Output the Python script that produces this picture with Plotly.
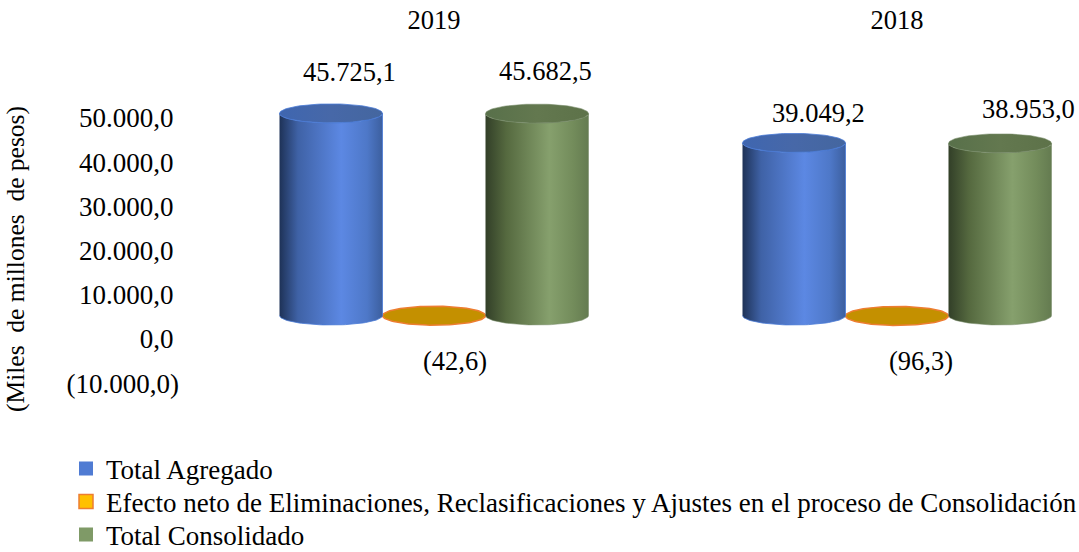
import numpy as np
import plotly.graph_objects as go

years = ["2019", "2018"]
series_names = [
    "Total Agregado",
    "Efecto neto de Eliminaciones, Reclasificaciones y Ajustes en el proceso de Consolidación",
    "Total Consolidado",
]
total_agregado = [45725.1, 39049.2]
efecto_neto = [-42.6, -96.3]
total_consolidado = [45682.5, 38953.0]
tick_values = [-10000, 0, 10000, 20000, 30000, 40000, 50000]
tick_labels = ["(10.000,0)", "0,0\u2009", "10.000,0\u2009", "20.000,0\u2009", "30.000,0\u2009", "40.000,0\u2009", "50.000,0\u2009"]
y_title = "(Miles\u00a0 de millones\u00a0 de pesos)"

W, H = 1079, 552
P_LEFT, P_TOP, P_BOTTOM = 180, 35, 483
PX_PER_UNIT = 221 / 50000
BASE_PX, TICK_ZERO_PX = 315.5, 339
X0_PX, X_STEP_PX = 434, 463
BAR_W = 103 / 463
RY = 9.5 / PX_PER_UNIT
FONT = "Liberation Serif"
FS = 26.5
FS_AXIS = 27
LEGEND_TOPS_PX = [444.5, 477.5, 510.5]


def v_at(px, zero):
    return (zero - px) / PX_PER_UNIT


def x_at(px):
    return (px - X0_PX) / X_STEP_PX


BLUE = dict(side=[[0, "#1e3257"], [0.18, "#3f62a6"], [0.6, "#5c88e3"], [0.85, "#4e78c8"], [1, "#3c5f9f"]],
            top=[[0, "#3f66b0"], [0.5, "#4768a8"], [1, "#44669f"]], edge="rgba(74,123,214,0.8)", swatch="#4f7bd3")
GREEN = dict(side=[[0, "#323f28"], [0.2, "#55693f"], [0.62, "#86a06d"], [0.85, "#738c5b"], [1, "#647b50"]],
             top=[[0, "#58704a"], [0.5, "#63784f"], [1, "#5d7249"]], edge="rgba(120,140,105,0.55)", swatch="#7f9a67")

fig = go.Figure()
t_front = np.linspace(np.pi, 2 * np.pi, 50)
t_full = np.linspace(0, 2 * np.pi, 100)


def cylinder(cx, value, style):
    rx = BAR_W / 2
    xs = np.concatenate([cx + rx * np.cos(t_front), cx + rx * np.cos(t_front[::-1])])
    ys = np.concatenate([RY * np.sin(t_front), value + RY * np.sin(t_front[::-1])])
    fig.add_trace(go.Scatter(
        x=xs, y=ys, yaxis="y2", mode="lines", fill="toself",
        line=dict(color=style["edge"], width=1),
        fillgradient=dict(type="horizontal", colorscale=style["side"]),
        showlegend=False, hoverinfo="skip"))
    fig.add_trace(go.Scatter(
        x=cx + rx * np.cos(t_full), y=value + RY * np.sin(t_full), yaxis="y2", mode="lines", fill="toself",
        line=dict(color=style["edge"], width=1),
        fillgradient=dict(type="horizontal", colorscale=style["top"]),
        showlegend=False, hoverinfo="skip"))


def disc(cx, value):
    rx = BAR_W / 2
    fig.add_trace(go.Scatter(
        x=cx + rx * np.cos(t_full), y=value + RY * np.sin(t_full), yaxis="y2", mode="lines", fill="toself",
        line=dict(color="#ed7d31", width=1.5), fillcolor="#c49000",
        showlegend=False, hoverinfo="skip"))


def es_fmt(v):
    s = f"{abs(v):,.1f}".replace(",", "X").replace(".", ",").replace("X", ".")
    return f"({s})" if v < 0 else s


annotations = []
label_offsets = {
    0: [(18, -41), (21, 45), (8.5, -43)],
    1: [(24.5, -30), (24, 45), (28, -34)],
}
for i in range(len(years)):
    vals = [total_agregado[i], efecto_neto[i], total_consolidado[i]]
    disc(i, vals[1])
    cylinder(i - BAR_W, vals[0], BLUE)
    cylinder(i + BAR_W, vals[2], GREEN)
    for j, v in enumerate(vals):
        dx, dy = label_offsets[i][j]
        annotations.append(dict(
            x=i + (j - 1) * BAR_W, y=v, xref="x", yref="y2", text=es_fmt(v), showarrow=False,
            xshift=dx, yshift=-dy, xanchor="center", yanchor="middle",
            font=dict(family=FONT, size=FS, color="black")))

swatches = [
    dict(color=BLUE["swatch"], line=dict(color=BLUE["swatch"], width=0)),
    dict(color="#ffc000", line=dict(color="#ed7d31", width=1.5)),
    dict(color=GREEN["swatch"], line=dict(color=GREEN["swatch"], width=0)),
]
legend_ids = ["legend", "legend2", "legend3"]
for name, sw, lid in zip(series_names, swatches, legend_ids):
    fig.add_trace(go.Scatter(
        x=[None], y=[None], mode="markers", name=name, legend=lid, showlegend=True,
        marker=dict(symbol="square", size=14, **sw)))

legends = {
    lid: dict(x=(66 - P_LEFT) / (W - P_LEFT), y=(P_BOTTOM - top) / (P_BOTTOM - P_TOP),
              xanchor="left", yanchor="top", bgcolor="rgba(0,0,0,0)", borderwidth=0,
              font=dict(family=FONT, size=FS_AXIS))
    for lid, top in zip(legend_ids, LEGEND_TOPS_PX)
}

fig.update_layout(
    width=W, height=H,
    margin=dict(l=P_LEFT, r=0, t=P_TOP, b=H - P_BOTTOM, pad=0, autoexpand=False),
    paper_bgcolor="white", plot_bgcolor="white",
    font=dict(family=FONT, size=FS_AXIS, color="black"),
    xaxis=dict(range=[x_at(P_LEFT), x_at(W)], side="top", tickvals=[0, 1], ticktext=years,
               showgrid=False, zeroline=False, showline=False, ticks="",
               tickfont=dict(size=FS)),
    yaxis=dict(range=[v_at(P_BOTTOM, TICK_ZERO_PX), v_at(P_TOP, TICK_ZERO_PX)],
               tickvals=tick_values, ticktext=tick_labels, showgrid=False, zeroline=False,
               showline=False, ticks="", ticklen=0,
               title=dict(text=y_title, font=dict(size=25.5), standoff=34)),
    yaxis2=dict(range=[v_at(P_BOTTOM, BASE_PX), v_at(P_TOP, BASE_PX)], overlaying="y", visible=False),
    annotations=annotations,
    **legends,
)

fig.write_html("out.html", config=dict(displayModeBar=False),
               post_script="document.body.style.margin='0';")
